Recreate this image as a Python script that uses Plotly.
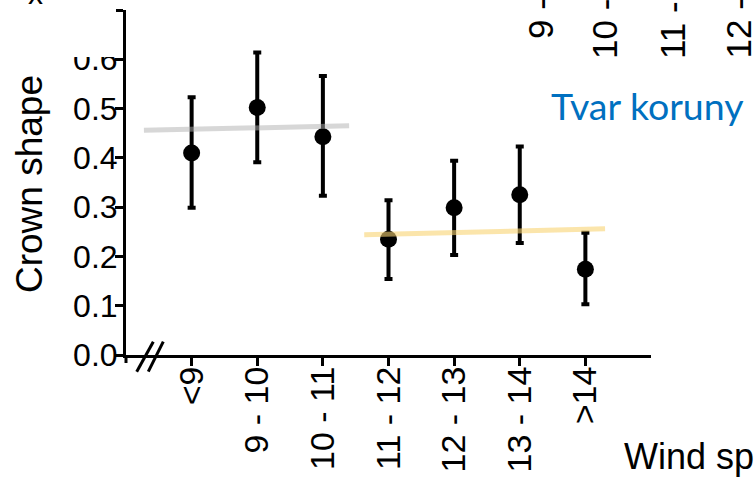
import plotly.graph_objects as go

# ---- data ----
categories = ["<9", "9 - 10", "10 - 11", "11 - 12", "12 - 13", "13 - 14", ">14"]
mean_vals = [0.410, 0.502, 0.443, 0.235, 0.299, 0.325, 0.174]
upper_vals = [0.523, 0.614, 0.566, 0.314, 0.394, 0.423, 0.248]
lower_vals = [0.299, 0.391, 0.323, 0.154, 0.203, 0.227, 0.103]

trend_low_x = [-0.727, 2.40]
trend_low_y = [0.456, 0.465]
trend_high_x = [2.63, 6.30]
trend_high_y = [0.244, 0.256]

y_ticks = [0.0, 0.1, 0.2, 0.3, 0.4, 0.5, 0.6, 0.7]
y_ticktext = ["0.0", "0.1", "0.2", "0.3", "0.4", "0.5", "0.6", ""]
cropped_top_labels = ["9 - 10", "10 - 11", "11 - 12", "12 - 13"]

# ---- layout geometry ----
W, H = 754, 477
L, R, T, B = 126, 103, 10, 122
PW, PH = W - L - R, H - T - B


def px_x(px):
    return (px - L) / PW


def px_y(py):
    return (H - B - py) / PH


xpos = list(range(len(categories)))
err_plus = [u - m for u, m in zip(upper_vals, mean_vals)]
err_minus = [m - l for m, l in zip(mean_vals, lower_vals)]

fig = go.Figure()
fig.add_trace(go.Scatter(
    x=xpos, y=mean_vals, mode="markers",
    marker=dict(color="black", size=17),
    error_y=dict(type="data", symmetric=False, array=err_plus, arrayminus=err_minus,
                 color="black", thickness=4, width=4),
    cliponaxis=False, showlegend=False, hoverinfo="skip",
))
fig.add_trace(go.Scatter(
    x=trend_low_x, y=trend_low_y, mode="lines",
    line=dict(color="rgba(175,175,175,0.5)", width=5),
    cliponaxis=False, showlegend=False, hoverinfo="skip",
))
fig.add_trace(go.Scatter(
    x=trend_high_x, y=trend_high_y, mode="lines",
    line=dict(color="rgba(249,212,115,0.6)", width=5),
    cliponaxis=False, showlegend=False, hoverinfo="skip",
))

axis_font = dict(family="Liberation Sans, Arial, sans-serif", color="black")

fig.update_xaxes(
    range=[-1, 7], tickvals=xpos, ticktext=categories, tickangle=-90,
    showline=True, linecolor="black", linewidth=3,
    ticks="outside", ticklen=8, tickwidth=3, tickcolor="black",
    showgrid=False, zeroline=False, automargin=False,
    ticklabeloverflow="allow", ticklabelstandoff=-13,
    tickfont=dict(size=34, **axis_font),
)
fig.update_yaxes(
    range=[0, 0.7], tickvals=y_ticks, ticktext=y_ticktext,
    showline=True, linecolor="black", linewidth=3,
    ticks="outside", ticklen=8, tickwidth=3, tickcolor="black",
    showgrid=False, zeroline=False, automargin=False,
    ticklabeloverflow="allow", ticklabelstandoff=-9,
    tickfont=dict(size=32, **axis_font),
)

shapes = [
    # white patch hiding the upper part of the top label
    dict(type="rect", xref="paper", yref="paper", x0=px_x(50), x1=px_x(116),
         y0=px_y(0), y1=px_y(57), fillcolor="white", line=dict(width=0), layer="above"),
    # y axis stub below x axis
    dict(type="line", xref="paper", yref="paper", x0=0, x1=0, y0=0, y1=px_y(363),
         line=dict(color="black", width=3)),
    # axis break marks
    dict(type="line", xref="paper", yref="paper", x0=px_x(136.7), y0=px_y(371.7),
         x1=px_x(153.3), y1=px_y(341.7), line=dict(color="black", width=3)),
    dict(type="line", xref="paper", yref="paper", x0=px_x(148.3), y0=px_y(371.7),
         x1=px_x(163.3), y1=px_y(341.7), line=dict(color="black", width=3)),
]

annotations = [
    dict(text="Crown shape", xref="paper", yref="paper", x=px_x(29), y=px_y(184),
         textangle=-90, showarrow=False, xanchor="center", yanchor="middle",
         font=dict(size=37, **axis_font)),
    dict(text="Wind speed (m/s)", xref="paper", yref="paper", x=px_x(622), y=px_y(456),
         showarrow=False, xanchor="left", yanchor="middle",
         font=dict(size=36, **axis_font)),
    dict(text="Tvar koruny", xref="paper", yref="paper", x=px_x(549), y=px_y(105),
         showarrow=False, xanchor="left", yanchor="middle",
         font=dict(size=37.5, family="Lato, sans-serif", color="#0070C0")),
    dict(text="x", xref="paper", yref="paper", x=px_x(35), y=px_y(-6),
         showarrow=False, xanchor="center", yanchor="middle",
         font=dict(size=30, **axis_font)),
]
top_x = [540, 604, 672, 738]
top_bottom = [41, 61, 61, 61]
for lab, xx, yb in zip(cropped_top_labels, top_x, top_bottom):
    annotations.append(dict(text=lab, xref="paper", yref="paper", x=px_x(xx), y=px_y(yb),
                            textangle=-90, showarrow=False, xanchor="center", yanchor="bottom",
                            font=dict(size=35, **axis_font)))

fig.update_layout(
    width=W, height=H, margin=dict(l=L, r=R, t=T, b=B),
    paper_bgcolor="white", plot_bgcolor="white",
    shapes=shapes, annotations=annotations, showlegend=False,
)

fig.write_html("out.html", config={"displayModeBar": False},
               post_script="document.body.style.margin='0';document.body.style.overflow='hidden';")
